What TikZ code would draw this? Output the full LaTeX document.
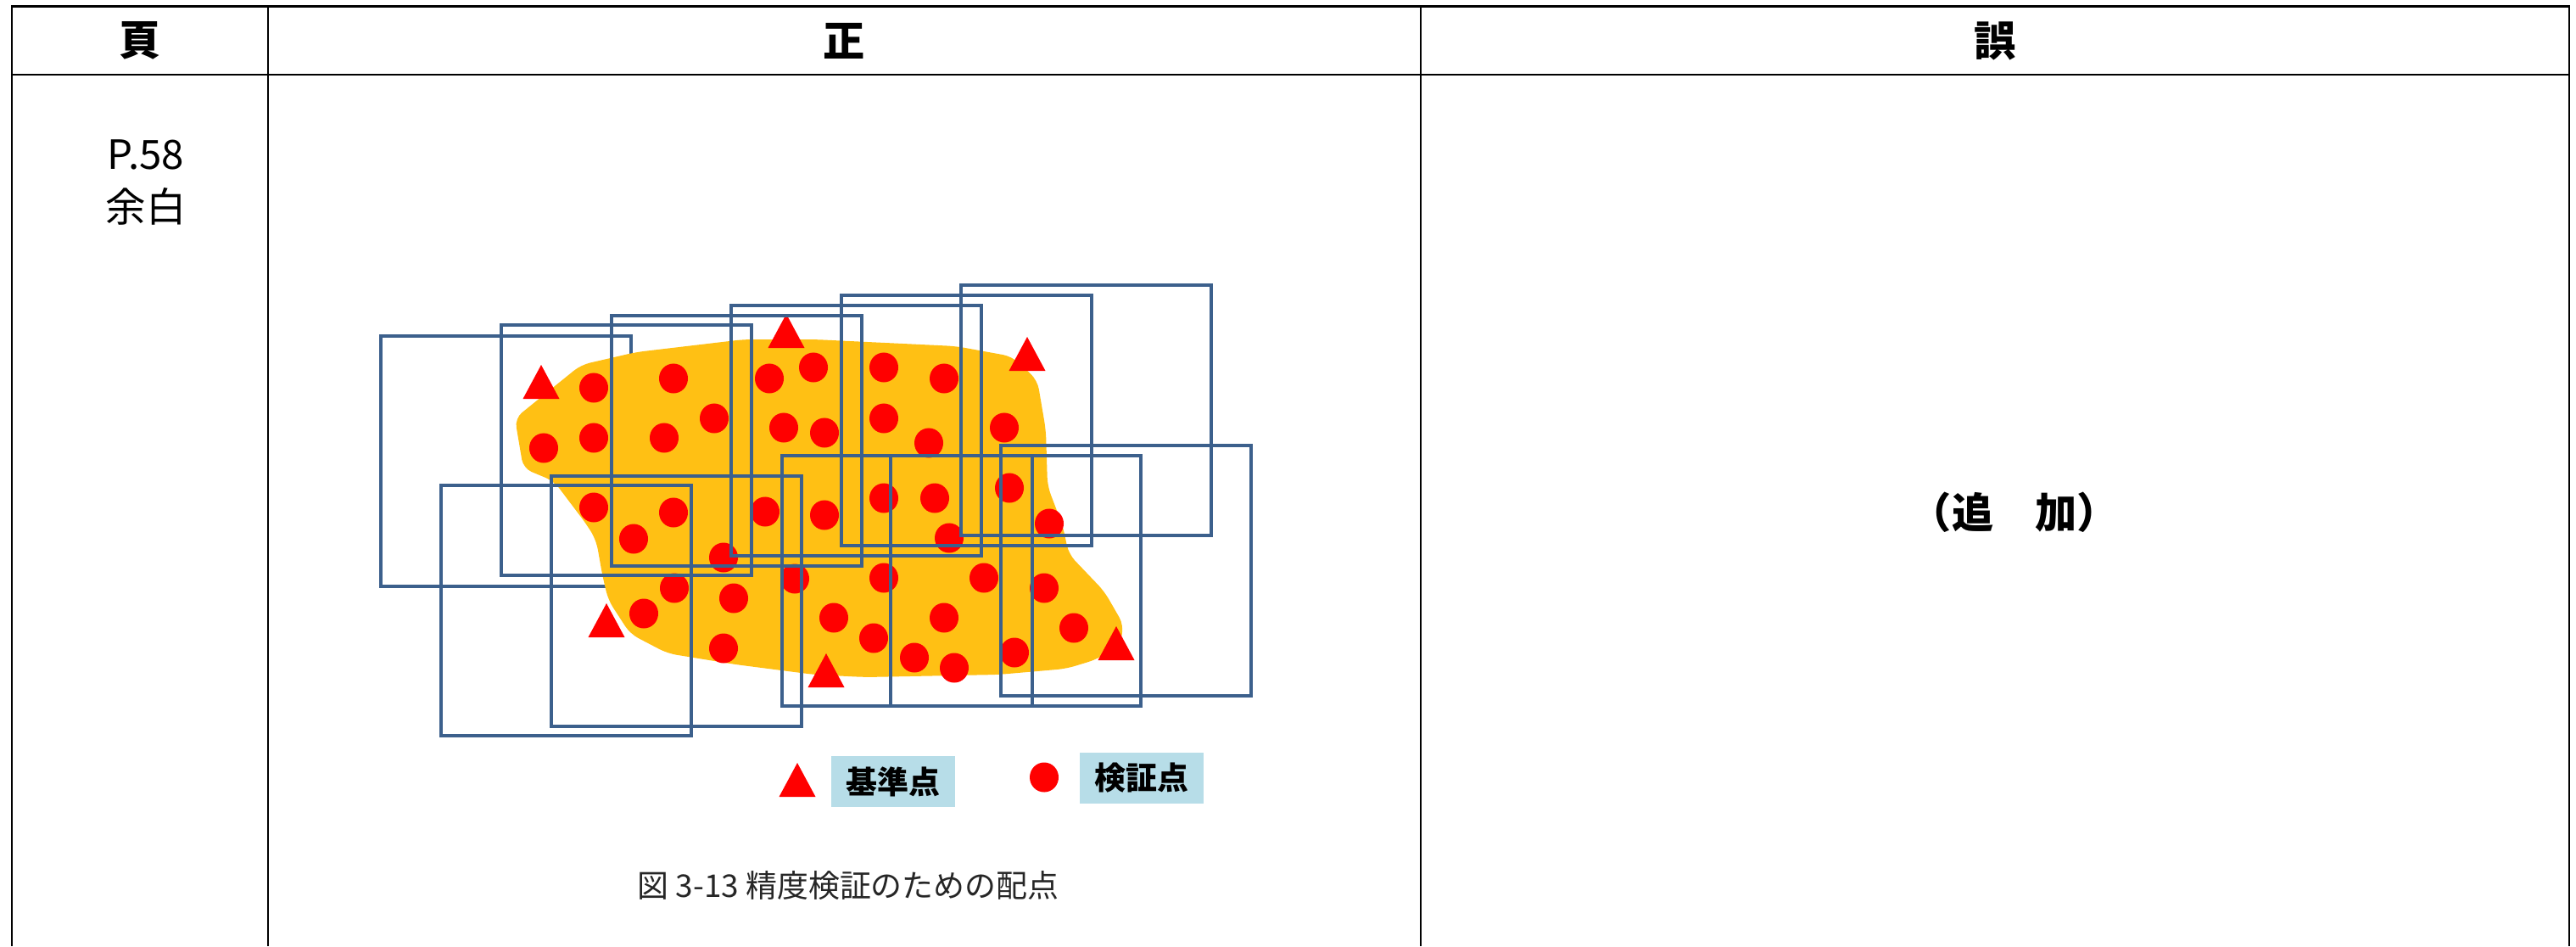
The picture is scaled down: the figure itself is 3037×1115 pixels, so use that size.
\documentclass[tikz,border=0pt]{standalone}
\usepackage{fontspec}
\setmainfont{Noto Sans CJK JP}
\definecolor{photoblue}{RGB}{60,96,140}
\definecolor{areayellow}{RGB}{255,192,20}
\definecolor{legendblue}{RGB}{183,221,232}
\tikzset{
  tableline/.style={draw=black, line width=0.65pt},
  photo/.style={draw=photoblue, line width=1.1pt},
  hdr/.style={font=\fontsize{14}{16}\selectfont\bfseries},
  legbox/.style={fill=legendblue, minimum width=1.45cm, minimum height=0.6cm, inner sep=0pt,
    font=\fontsize{10.5}{12}\selectfont\bfseries}
}
\newcommand{\kijunten}[2]{\fill[red] (#1-21.5,#2) -- (#1+21.5,#2) -- (#1,#2-40) -- cycle;}
\begin{document}
\begin{tikzpicture}[x=0.01cm, y=-0.01cm]
        \useasboundingbox (0,0) rectangle (3037,1115);
        %% Table
        \draw[tableline] (14,1115) -- (14,7.5) -- (3029,7.5) -- (3029,1115);
        \draw[tableline] (14,88) -- (3029,88);
        \draw[tableline] (316,7.5) -- (316,1115);
        \draw[tableline] (1675,7.5) -- (1675,1115);
        \node[hdr] (hdrpage) at (165,48) {頁};
        \node[hdr] (hdrright) at (995,48) {正};
        \node[hdr] (hdrwrong) at (2352,48) {誤};
        \node[align=center, font=\fontsize{13.5}{17.6}\selectfont] (page) at (172,215) {P.58\\余白};
        \node[hdr] (added) at (2375,604) {（追　加）};
        %% Frame under the area
        \draw[photo] (449,396) rectangle ++(295,295);
        %% Area
        \fill[areayellow, rounded corners=3pt] (607,493) -- (685,430) -- (750,415) -- (877,400)
          -- (960,400) -- (1127,408) -- (1193,420) -- (1223,448) -- (1233,507) -- (1235,573)
          -- (1253,620) -- (1260,653) -- (1302,697) -- (1325,737) -- (1320,760) -- (1293,777)
          -- (1257,788) -- (1177,795) -- (1020,798) -- (960,795) -- (867,783) -- (787,770)
          -- (743,747) -- (717,707) -- (710,677) -- (703,637) -- (693,620) -- (653,567)
          -- (617,552) -- cycle;
        %% Control points and check points
        \kijunten{638}{470} \kijunten{927}{410} \kijunten{1211}{437}
        \kijunten{715}{751} \kijunten{974}{810} \kijunten{1316}{778}
        \foreach \x/\y in {700/457, 794/446, 907/446, 959/433, 1042/433, 1113/446,
          641/528, 700/516, 783/516, 842/493, 924/504, 972/510, 1042/493, 1095/522, 1184/504,
          700/598, 747/635, 794/604, 902/603, 972/607, 1042/587, 1102/587, 1119/634, 1190/575, 1237/617,
          853/657, 795/693, 865/705, 937/682, 1042/681, 1160/681, 1231/693,
          759/723, 853/764, 983/728, 1030/752, 1113/728, 1078/775, 1125/787, 1196/769, 1266/740}
          \fill[red] (\x,\y) circle (0.17cm and 0.175cm);
        %% Frames
        \foreach \l/\t in {591/383, 721/372, 862/360, 992/348, 1133/336,
          520/572, 650/561, 922/537, 1050/537, 1180/525}
          \draw[photo] (\l,\t) rectangle ++(295,295);
        %% Legend
        \kijunten{940}{939}
        \node[legbox] (legkijun) at (1053,921) {基準点};
        \fill[red] (1231,916) circle (0.17cm and 0.175cm);
        \node[legbox] (legkensho) at (1346,917) {検証点};
        \node[font=\fontsize{10.5}{12}\selectfont, text=black!85] (caption) at (1000,1044) {図 3-13 精度検証のための配点};
    \end{tikzpicture}
\end{document}
